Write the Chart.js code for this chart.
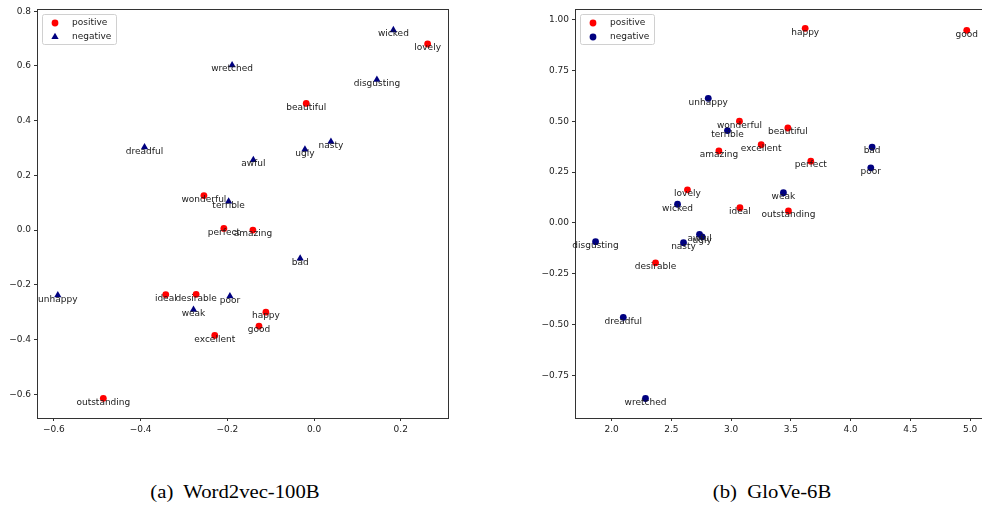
<!DOCTYPE html>
<html>
<head>
<meta charset="utf-8">
<script src="https://cdn.jsdelivr.net/npm/chart.js@4.4.0/dist/chart.umd.min.js"></script>
<style>
html, body { margin: 0; padding: 0; background: #fff; overflow: hidden; }
body { width: 982px; height: 522px; position: relative; }
.wrap { position: absolute; top: 0; height: 445px; overflow: hidden; }
#wrapA { left: 0; width: 460px; }
#wrapB { left: 537px; width: 445px; }
.cap {
    position: absolute; top: 482px;
    font-family: 'Liberation Serif', 'Times New Roman', serif;
    font-size: 18px; color: #000; white-space: pre;
    transform: translateX(-50%) scaleX(1.15);
}
</style>
</head>
<body>
<div class="wrap" id="wrapA"><canvas id="chartA" width="460" height="445"></canvas></div>
<div class="wrap" id="wrapB"><canvas id="chartB" width="480" height="445"></canvas></div>
<div class="cap" style="left:235px">(a)  Word2vec-100B</div>
<div class="cap" style="left:772px">(b)  GloVe-6B</div>
<script>
/* ---------- Data: (a) Word2vec-100B ---------- */
const w2vPosWords = ['lovely', 'beautiful', 'wonderful', 'perfect', 'amazing', 'ideal', 'desirable', 'happy', 'good', 'excellent', 'outstanding'];
const w2vPosX = [0.262, -0.018, -0.254, -0.208, -0.141, -0.342, -0.272, -0.111, -0.127, -0.229, -0.486];
const w2vPosY = [0.680, 0.463, 0.126, 0.006, 0.000, -0.236, -0.235, -0.300, -0.351, -0.385, -0.615];
const w2vNegWords = ['wicked', 'wretched', 'disgusting', 'nasty', 'ugly', 'dreadful', 'awful', 'terrible', 'bad', 'unhappy', 'poor', 'weak'];
const w2vNegX = [0.183, -0.189, 0.145, 0.039, -0.021, -0.391, -0.140, -0.197, -0.032, -0.591, -0.194, -0.278];
const w2vNegY = [0.731, 0.603, 0.550, 0.323, 0.295, 0.303, 0.256, 0.105, -0.104, -0.238, -0.242, -0.291];
const w2vXTicks = [-0.6, -0.4, -0.2, 0.0, 0.2];
const w2vYTicks = [-0.6, -0.4, -0.2, 0.0, 0.2, 0.4, 0.6, 0.8];

/* ---------- Data: (b) GloVe-6B ---------- */
const glovePosWords = ['happy', 'good', 'wonderful', 'beautiful', 'excellent', 'amazing', 'perfect', 'lovely', 'ideal', 'outstanding', 'desirable'];
const glovePosX = [3.620, 4.972, 3.070, 3.475, 3.252, 2.898, 3.667, 2.635, 3.074, 3.480, 2.368];
const glovePosY = [0.957, 0.947, 0.500, 0.467, 0.385, 0.354, 0.304, 0.163, 0.075, 0.059, -0.196];
const gloveNegWords = ['unhappy', 'terrible', 'bad', 'poor', 'weak', 'wicked', 'disgusting', 'awful', 'ugly', 'nasty', 'dreadful', 'wretched'];
const gloveNegX = [2.809, 2.970, 4.180, 4.169, 3.438, 2.552, 1.866, 2.736, 2.758, 2.602, 2.098, 2.284];
const gloveNegY = [0.613, 0.454, 0.373, 0.271, 0.149, 0.092, -0.092, -0.056, -0.068, -0.097, -0.464, -0.863];
const gloveXTicks = [2.0, 2.5, 3.0, 3.5, 4.0, 4.5, 5.0];
const gloveYTicks = [-0.75, -0.50, -0.25, 0.00, 0.25, 0.50, 0.75, 1.00];

const seriesLabels = ['positive', 'negative'];

/* ---------- helpers ---------- */
const FONT = '"DejaVu Sans", sans-serif';
const RED = '#ff0000';
const NAVY = '#000080';

const toPoints = (xs, ys) => xs.map((x, i) => ({ x, y: ys[i] }));
const fmt = (v, d) => v.toFixed(d).replace('-', '\u2212');

function drawMarker(ctx, style, x, y, r, color) {
    ctx.fillStyle = color;
    ctx.beginPath();
    if (style === 'triangle') {
        ctx.moveTo(x, y - r);
        ctx.lineTo(x + r * 0.866, y + r * 0.5);
        ctx.lineTo(x - r * 0.866, y + r * 0.5);
        ctx.closePath();
    } else {
        ctx.arc(x, y, r, 0, Math.PI * 2);
    }
    ctx.fill();
}

// frame around the plot area (all four spines)
const framePlugin = {
    id: 'frame',
    beforeDatasetsDraw(chart) {
        const a = chart.chartArea, ctx = chart.ctx;
        ctx.save();
        ctx.strokeStyle = '#333';
        ctx.lineWidth = 1;
        ctx.strokeRect(Math.round(a.left) + 0.5, Math.round(a.top) + 0.5,
            Math.round(a.right - a.left), Math.round(a.bottom - a.top));
        ctx.restore();
    }
};

// word next to every point
const wordsPlugin = {
    id: 'words',
    afterDatasetsDraw(chart) {
        const ctx = chart.ctx;
        ctx.save();
        ctx.font = '9px ' + FONT;
        ctx.fillStyle = '#1a1a1a';
        ctx.textAlign = 'center';
        ctx.textBaseline = 'middle';
        chart.data.datasets.forEach((ds, di) => {
            chart.getDatasetMeta(di).data.forEach((pt, i) => {
                ctx.fillText(ds.words[i], pt.x, pt.y + 4);
            });
        });
        ctx.restore();
    }
};

// matplotlib-like legend box in the upper left
const boxLegendPlugin = {
    id: 'boxLegend',
    afterDraw(chart) {
        const a = chart.chartArea, ctx = chart.ctx;
        const x0 = a.left + 5, y0 = a.top + 5, w = 74, h = 30;
        ctx.save();
        ctx.fillStyle = 'rgba(255,255,255,0.85)';
        ctx.strokeStyle = '#d0d0d0';
        ctx.lineWidth = 1;
        ctx.beginPath();
        ctx.roundRect(x0 + 0.5, y0 + 0.5, w, h, 2);
        ctx.fill();
        ctx.stroke();
        ctx.font = '9px ' + FONT;
        ctx.textAlign = 'left';
        ctx.textBaseline = 'middle';
        chart.data.datasets.forEach((ds, i) => {
            const yy = y0 + 9 + i * 14;
            drawMarker(ctx, ds.pointStyle, x0 + 13, yy, ds.pointRadius, ds.backgroundColor);
            ctx.fillStyle = '#1a1a1a';
            ctx.fillText(ds.label, x0 + 30, yy);
        });
        ctx.restore();
    }
};

function makeScatter(id, pos, neg, negStyle, xr, yr, xTicks, yTicks, xDec, yDec, yWidth, rightPad) {
    const tickFont = { family: FONT, size: 9 };
    new Chart(document.getElementById(id), {
        type: 'scatter',
        data: {
            datasets: [{
                label: seriesLabels[0],
                words: pos.words,
                data: toPoints(pos.x, pos.y),
                pointStyle: 'circle',
                pointRadius: 3.4,
                backgroundColor: RED,
                borderWidth: 0
            }, {
                label: seriesLabels[1],
                words: neg.words,
                data: toPoints(neg.x, neg.y),
                pointStyle: negStyle,
                pointRadius: negStyle === 'triangle' ? 4.2 : 3.4,
                backgroundColor: NAVY,
                borderWidth: 0
            }]
        },
        options: {
            responsive: false,
            animation: false,
            events: [],
            devicePixelRatio: 1,
            layout: { padding: { top: 9, right: rightPad, left: 0, bottom: 0 } },
            plugins: { legend: { display: false }, tooltip: { enabled: false } },
            scales: {
                x: {
                    min: xr[0], max: xr[1],
                    afterBuildTicks: s => { s.ticks = xTicks.map(v => ({ value: v })); },
                    afterFit: s => { s.height = 27; },
                    border: { display: false },
                    grid: { drawOnChartArea: false, drawTicks: true, tickLength: 3, color: '#333' },
                    ticks: { font: tickFont, color: '#222', padding: 3, maxRotation: 0,
                             callback: v => fmt(v, xDec) }
                },
                y: {
                    min: yr[0], max: yr[1],
                    afterBuildTicks: s => { s.ticks = yTicks.map(v => ({ value: v })); },
                    afterFit: s => { s.width = yWidth; },
                    border: { display: false },
                    grid: { drawOnChartArea: false, drawTicks: true, tickLength: 3, color: '#333' },
                    ticks: { font: tickFont, color: '#222', padding: 3,
                             callback: v => fmt(v, yDec) }
                }
            }
        },
        plugins: [framePlugin, wordsPlugin, boxLegendPlugin]
    });
}

makeScatter('chartA',
    { words: w2vPosWords, x: w2vPosX, y: w2vPosY },
    { words: w2vNegWords, x: w2vNegX, y: w2vNegY },
    'triangle', [-0.639, 0.309], [-0.687, 0.808], w2vXTicks, w2vYTicks, 1, 1, 37, 12);

// panel (b) runs past the page edge, so its right spine is clipped away
makeScatter('chartB',
    { words: glovePosWords, x: glovePosX, y: glovePosY },
    { words: gloveNegWords, x: gloveNegX, y: gloveNegY },
    'circle', [1.694, 5.225], [-0.959, 1.052], gloveXTicks, gloveYTicks, 1, 2, 38, 20);
</script>
</body>
</html>
